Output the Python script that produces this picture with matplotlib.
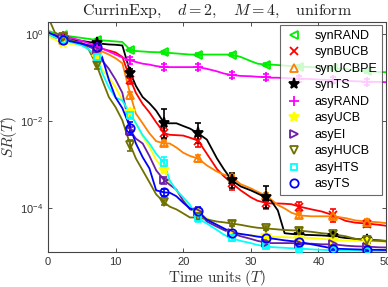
import numpy as np
import matplotlib
matplotlib.use("Agg")
import matplotlib.pyplot as plt
from matplotlib.lines import Line2D

plt.rcParams['font.family'] = ['Liberation Sans', 'DejaVu Sans']
plt.rcParams['mathtext.fontset'] = 'cm'

T = [0, 1, 2.2, 3.5, 5, 6, 7.2, 8, 9, 10, 11, 12.2, 13, 14, 15, 16, 17.2, 18, 19, 20,
     21, 22.2, 23.5, 25, 26, 27.2, 28.5, 30, 31, 32.2, 33, 34, 35, 36, 37.2, 39, 40.5,
     42.2, 44, 45.5, 47.2, 49, 50]
marker_times = [2.2, 7.2, 12.2, 17.2, 22.2, 27.2, 32.2, 37.2, 42.2, 47.2]

names = ['synRAND', 'synBUCB', 'synUCBPE', 'synTS', 'asyRAND',
         'asyUCB', 'asyEI', 'asyHUCB', 'asyHTS', 'asyTS']

synRAND = [1.2, 1.05, 0.95, 0.88, 0.82,
           0.78, 0.73, 0.72, 0.70, 0.68,
           0.66, 0.43, 0.41, 0.40, 0.39,
           0.385, 0.38, 0.37, 0.36, 0.35,
           0.34, 0.34, 0.34, 0.34, 0.34,
           0.34, 0.30, 0.24, 0.21, 0.20,
           0.20, 0.195, 0.19, 0.185, 0.18,
           0.175, 0.17, 0.165, 0.16, 0.145,
           0.14, 0.135, 0.134]
synBUCB = [1.0, 0.92, 0.85, 0.72, 0.60,
           0.55, 0.50, 0.46, 0.42, 0.38,
           0.30, 0.09, 0.045, 0.025, 0.016,
           0.0095, 0.0053, 0.0049, 0.0048, 0.0047,
           0.0042, 0.0036, 0.0018, 8e-4, 5.5e-4,
           3.8e-4, 2.6e-4, 1.8e-4, 1.5e-4, 1.35e-4,
           1.3e-4, 1.3e-4, 1.28e-4, 1.25e-4, 1.1e-4,
           9.5e-5, 8.5e-5, 7e-5, 5.2e-5, 4.7e-5,
           4.5e-5, 4.2e-5, 4.0e-5]
synUCBPE = [1.0, 0.85, 0.75, 0.70, 0.62,
            0.55, 0.45, 0.40, 0.34, 0.28,
            0.215, 0.04, 0.015, 0.009, 0.0053,
            0.0035, 0.0031, 0.0031, 0.0025, 0.0019,
            0.0016, 0.0014, 9.7e-4, 7e-4, 6e-4,
            5.2e-4, 3.6e-4, 2.9e-4, 2.4e-4, 2e-4,
            1.6e-4, 1.2e-4, 1.0e-4, 8e-5, 6.9e-5,
            6.6e-5, 6.6e-5, 6.6e-5, 6e-5, 5.3e-5,
            5e-5, 4.8e-5, 4.6e-5]
synTS = [1.0, 0.9, 0.81, 0.75, 0.70,
         0.66, 0.62, 0.60, 0.58, 0.57,
         0.55, 0.127, 0.065, 0.036, 0.026,
         0.0175, 0.009, 0.009, 0.009, 0.0078,
         0.0068, 0.0053, 0.0038, 0.0014, 8e-4,
         4.4e-4, 3.2e-4, 2.6e-4, 2.2e-4, 1.8e-4,
         1.5e-4, 9e-5, 2.7e-5, 2.6e-5, 2.5e-5,
         2.45e-5, 2.4e-5, 2.3e-5, 2.1e-5, 2.0e-5,
         1.9e-5, 1.85e-5, 1.8e-5]
asyRAND = [1.05, 0.95, 0.9, 0.82, 0.70,
           0.62, 0.52, 0.47, 0.40, 0.34,
           0.29, 0.25, 0.23, 0.21, 0.20,
           0.185, 0.175, 0.175, 0.175, 0.175,
           0.175, 0.175, 0.16, 0.14, 0.125,
           0.115, 0.11, 0.108, 0.105, 0.103,
           0.1, 0.1, 0.098, 0.097, 0.095,
           0.093, 0.09, 0.088, 0.085, 0.083,
           0.081, 0.08, 0.079]
asyUCB = [0.9, 0.75, 0.62, 0.6, 0.58,
          0.45, 0.30, 0.155, 0.1, 0.06,
          0.03, 0.016, 0.009, 0.0045, 0.0026,
          0.0013, 7.5e-4, 3.8e-4, 2.6e-4, 1.55e-4,
          1.05e-4, 8.5e-5, 6e-5, 4e-5, 3.2e-5,
          2.7e-5, 2.5e-5, 2.4e-5, 2.35e-5, 2.3e-5,
          2.25e-5, 2.2e-5, 2.2e-5, 2.15e-5, 2.15e-5,
          2.1e-5, 2e-5, 1.9e-5, 1.85e-5, 1.8e-5,
          1.8e-5, 1.75e-5, 1.75e-5]
asyEI = [1.1, 0.85, 0.8, 0.7, 0.62,
         0.52, 0.43, 0.25, 0.16, 0.09,
         0.045, 0.006, 0.004, 0.0031, 0.0016,
         7.5e-4, 4.4e-4, 3.5e-4, 2.7e-4, 1.5e-4,
         9.5e-5, 8.5e-5, 5e-5, 3.8e-5, 3.2e-5,
         2.7e-5, 2.3e-5, 2e-5, 1.8e-5, 1.65e-5,
         1.6e-5, 1.6e-5, 1.6e-5, 1.6e-5, 1.55e-5,
         1.55e-5, 1.5e-5, 1.5e-5, 1.4e-5, 1.35e-5,
         1.33e-5, 1.28e-5, 1.27e-5]
asyHUCB = [2.5, 1.1, 0.85, 0.72, 0.60,
           0.45, 0.194, 0.09, 0.036, 0.021,
           0.0105, 0.0028, 0.0014, 7.5e-4, 4e-4,
           2.1e-4, 1.37e-4, 1.1e-4, 9.5e-5, 7.7e-5,
           6.2e-5, 6.2e-5, 5.6e-5, 5e-5, 4.8e-5,
           4.5e-5, 4.2e-5, 3.8e-5, 3.6e-5, 3.5e-5,
           3.4e-5, 3.3e-5, 3.2e-5, 3.15e-5, 3.1e-5,
           2.9e-5, 2.7e-5, 2.55e-5, 2.3e-5, 2.0e-5,
           1.85e-5, 1.8e-5, 1.75e-5]
asyHTS = [1.0, 0.85, 0.75, 0.65, 0.55,
          0.45, 0.3, 0.13, 0.06, 0.035,
          0.03, 0.014, 0.009, 0.0048, 0.0031,
          0.0018, 0.0011, 4.4e-4, 2.6e-4, 1.8e-4,
          1.2e-4, 5.9e-5, 4.5e-5, 3.2e-5, 2.5e-5,
          2.05e-5, 1.8e-5, 1.6e-5, 1.45e-5, 1.35e-5,
          1.3e-5, 1.27e-5, 1.25e-5, 1.22e-5, 1.2e-5,
          1.15e-5, 1.12e-5, 1.1e-5, 1.08e-5, 1.08e-5,
          1.07e-5, 1.06e-5, 1.06e-5]
asyTS = [1.1, 0.95, 0.73, 0.68, 0.6,
         0.55, 0.5, 0.3, 0.09, 0.035,
         0.02, 0.0069, 0.0031, 0.0015, 8.3e-4,
         2.6e-4, 2.33e-4, 2.3e-4, 1.9e-4, 1.35e-4,
         1.0e-4, 8.6e-5, 5.5e-5, 4.2e-5, 3.5e-5,
         2.8e-5, 2.6e-5, 2.4e-5, 2.25e-5, 2.15e-5,
         2.05e-5, 1.95e-5, 1.85e-5, 1.78e-5, 1.7e-5,
         1.5e-5, 1.35e-5, 1.2e-5, 1.17e-5, 1.15e-5,
         1.13e-5, 1.12e-5, 1.11e-5]

# error bar half-widths (decades) at marker times
err_synRAND = [0.03, 0.03, 0.03, 0.03, 0.03, 0.03, 0.03, 0.03, 0.03, 0.03]
err_synBUCB = [0.03, 0.05, 0.10, 0.12, 0.15, 0.15, 0.15, 0.10, 0.15, 0.08]
err_synUCBPE = [0.03, 0.05, 0.08, 0.06, 0.08, 0.06, 0.06, 0.06, 0.06, 0.06]
err_synTS = [0.03, 0.05, 0.10, 0.33, 0.23, 0.18, 0.25, 0.07, 0.07, 0.07]
err_asyRAND = [0.03, 0.05, 0.08, 0.07, 0.07, 0.07, 0.07, 0.07, 0.07, 0.07]
err_asyUCB = [0.03, 0.05, 0.08, 0.06, 0.05, 0.05, 0.04, 0.04, 0.04, 0.04]
err_asyEI = [0.03, 0.05, 0.08, 0.08, 0.06, 0.05, 0.04, 0.04, 0.04, 0.04]
err_asyHUCB = [0.03, 0.08, 0.13, 0.06, 0.05, 0.05, 0.05, 0.05, 0.05, 0.05]
err_asyHTS = [0.03, 0.06, 0.10, 0.15, 0.08, 0.05, 0.04, 0.04, 0.04, 0.04]
err_asyTS = [0.05, 0.08, 0.15, 0.08, 0.09, 0.05, 0.04, 0.04, 0.04, 0.04]

series = [synRAND, synBUCB, synUCBPE, synTS, asyRAND, asyUCB, asyEI, asyHUCB, asyHTS, asyTS]
errs = [err_synRAND, err_synBUCB, err_synUCBPE, err_synTS, err_asyRAND,
        err_asyUCB, err_asyEI, err_asyHUCB, err_asyHTS, err_asyTS]
colors = ['#00ee00', '#ff0000', '#ff8000', '#000000', '#ff00ff',
          '#ffff00', '#6a1fa8', '#707000', '#00ffff', '#0000ff']
markers = ['<', 'x', '^', '*', '+', '*', '>', 'v', 's', 'o']
msizes = [6, 6, 6, 8, 7, 7, 6, 6, 5, 6]

fig = plt.figure(figsize=(3.88, 2.87), dpi=100)
ax = fig.add_axes([48/388, 35/287, 338/388, 230/287])

idx = [T.index(m) for m in marker_times]
for vals, er, c, mk, ms in zip(series, errs, colors, markers, msizes):
    v = np.array(vals)
    ax.plot(T, v, color=c, lw=1.3, zorder=2)
    mt = [T[i] for i in idx]
    mv = v[idx]
    e = np.array(er)
    lo = mv - mv * 10 ** (-e)
    hi = mv * 10 ** e - mv
    ax.errorbar(mt, mv, yerr=[lo, hi], fmt='none', ecolor=c, elinewidth=1.2,
                capsize=2.5, capthick=1.2, zorder=3)
    ax.plot(mt, mv, linestyle='none', marker=mk, markersize=ms, color=c,
            markerfacecolor=c if mk == '*' else 'none', markeredgewidth=1.3, zorder=4)

ax.set_yscale('log')
ax.set_xlim(0, 50)
ax.set_ylim(1e-5, 1.9)
ax.set_yticks([1e-4, 1e-2, 1])
ax.yaxis.set_minor_locator(matplotlib.ticker.NullLocator())
ax.set_xticks([0, 10, 20, 30, 40, 50])
ax.tick_params(direction='in', which='both', top=True, right=True, labelsize=8,
               colors='#333333', length=3, width=0.6)
for sp in ax.spines.values():
    sp.set_color('#444444')
    sp.set_linewidth(0.8)

ax.set_title(r'$\mathrm{CurrinExp},\quad d=2,\quad M=4,\quad \mathrm{uniform}$',
             fontsize=11.5, pad=5, color='#222222')
ax.set_ylabel(r'$SR(T)$', fontsize=11, color='#333333')
ax.yaxis.set_label_coords(-0.085, 0.5)
ax.set_xlabel(r'$\mathrm{Time\ units}\ (T)$', fontsize=11, color='#333333', labelpad=1)

handles = [Line2D([], [], linestyle='none', marker=mk, markersize=ms, color=c,
                  markerfacecolor=c if mk == '*' else 'none', markeredgewidth=1.3)
           for c, mk, ms in zip(colors, markers, msizes)]
leg = ax.legend(handles, names, loc='upper right', bbox_to_anchor=(0.988, 0.987),
                borderaxespad=0, fontsize=9, frameon=True, fancybox=False,
                handlelength=1.3, handletextpad=1.0, labelspacing=0.36,
                borderpad=0.4)
leg.get_frame().set_edgecolor('#444444')
leg.get_frame().set_linewidth(0.8)
leg.set_zorder(10)

fig.savefig('out.png', dpi=100)
